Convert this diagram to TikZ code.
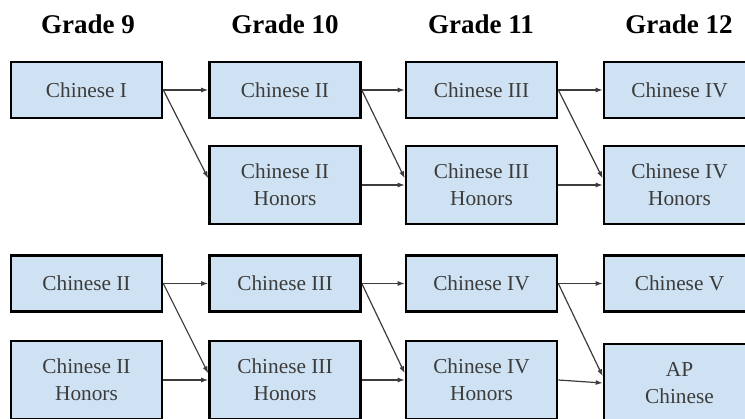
\documentclass[tikz,border=0pt]{standalone}
\usepackage{fontspec}
\setmainfont{Liberation Serif}
\usetikzlibrary{arrows.meta}
\definecolor{boxblue}{HTML}{CFE2F3}
\definecolor{ink}{HTML}{3C3C3C}

\begin{document}
\begin{tikzpicture}[x=1pt,y=-1pt,
  course/.style={draw=black,line width=2.6pt,fill=boxblue,minimum width=151pt,
    minimum height=56pt,inner sep=0pt,align=center,text=ink,
    font=\fontsize{21.3}{27}\selectfont},
  honors/.style={course,minimum height=78pt},
  grade/.style={font=\fontsize{27}{30}\selectfont\bfseries},
  link/.style={draw=ink,line width=1.2pt,-{Latex[length=7pt,width=5pt]}}]
\useasboundingbox (0,0) rectangle (745,419);
\node[grade] (g1) at (88,24) {Grade 9};
\node[grade] (g2) at (285,24) {Grade 10};
\node[grade] (g3) at (481,24) {Grade 11};
\node[grade] (g4) at (679,24) {Grade 12};
\node[course] (n11) at (86.5,90) {Chinese I};
\node[course] (n12) at (285,90) {Chinese II};
\node[course] (n13) at (481.5,90) {Chinese III};
\node[course] (n14) at (679.5,90) {Chinese IV};
\node[honors] (n22) at (285,185) {Chinese II\\Honors};
\node[honors] (n23) at (481.5,185) {Chinese III\\Honors};
\node[honors] (n24) at (679.5,185) {Chinese IV\\Honors};
\node[course] (n31) at (86.5,283.5) {Chinese II};
\node[course] (n32) at (285,283.5) {Chinese III};
\node[course] (n33) at (481.5,283.5) {Chinese IV};
\node[course] (n34) at (679.5,283.5) {Chinese V};
\node[honors] (n41) at (86.5,380) {Chinese II\\Honors};
\node[honors] (n42) at (285,380) {Chinese III\\Honors};
\node[honors] (n43) at (481.5,380) {Chinese IV\\Honors};
\node[honors] (n44) at (679.5,383) {AP\\Chinese};
\foreach \from/\to in {n11/n12,n12/n13,n13/n14,n22/n23,n23/n24,
  n31/n32,n32/n33,n33/n34,n41/n42,n42/n43,n43/n44}
\draw[link] (\from.east) -- (\to.west);
\foreach \from/\to in {n11/n22,n12/n23,n13/n24,n31/n42,n32/n43,n33/n44}
\draw[link] (\from.east) -- (\to.175); % lands a bit above the middle
\end{tikzpicture}
\end{document}
